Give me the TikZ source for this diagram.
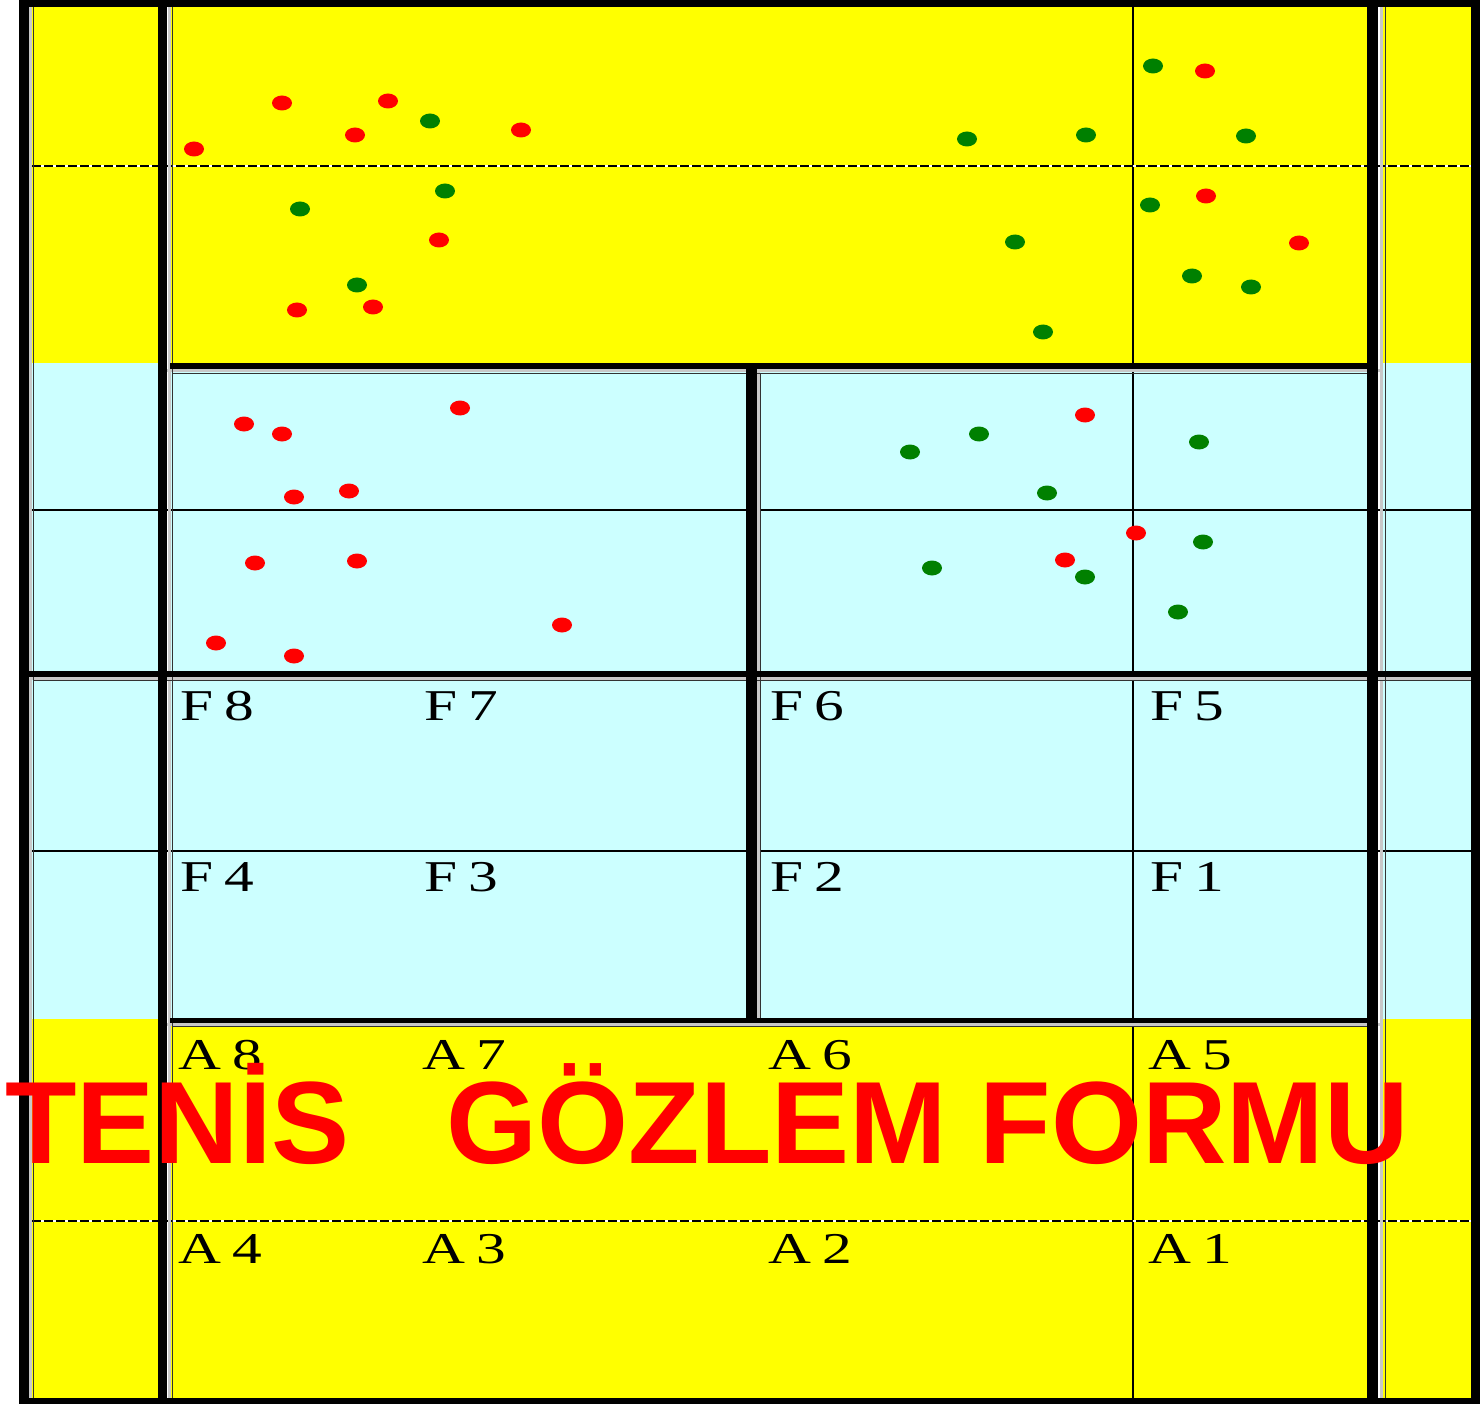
\documentclass[tikz,border=0pt]{standalone}
\usepackage{fontspec}
\setmainfont{Liberation Serif}
\newfontfamily\lblfont[FakeStretch=1.35]{Liberation Serif}
\newfontfamily\titlefont{Liberation Sans}
\definecolor{courtyellow}{HTML}{FFFF00}
\definecolor{courtcyan}{HTML}{CCFFFF}
\definecolor{dotred}{HTML}{FF0000}
\definecolor{dotgreen}{HTML}{008000}
\definecolor{sepgray}{HTML}{C8C8C8}
\newcommand\lblpair[2]{#1\kern11pt #2}
\begin{document}
\begin{tikzpicture}[x=1pt,y=-1pt,
  lbl/.style={anchor=base west, inner sep=0pt, font=\lblfont\fontsize{44}{44}\selectfont},
  titletext/.style={anchor=base west, inner sep=0pt, text=dotred, font=\titlefont\bfseries\fontsize{117}{117}\selectfont},
  thinrule/.style={line width=1.5pt, black},
  edgerule/.style={line width=0.8pt, black!80},
  grayrule/.style={line width=3pt, sepgray},
  dashbase/.style={line width=2pt, white},
  dashrule/.style={line width=2pt, black, dash pattern=on 9pt off 3pt},
  reddot/.style={fill=dotred},
  greendot/.style={fill=dotgreen}]
% background
\fill[white] (0,0) rectangle (1480,1404);
\useasboundingbox (0,0) rectangle (1480,1404);
% alleys
\foreach \xa/\xb in {32/158, 1383/1471}{
  \fill[courtyellow] (\xa,7) rectangle (\xb,363);
  \fill[courtcyan] (\xa,363) rectangle (\xb,1019);
  \fill[courtyellow] (\xa,1019) rectangle (\xb,1398);
}
% inner court
\fill[courtyellow] (170,7) rectangle (1367,363);
\fill[courtcyan] (170,363) rectangle (1367,1023);
\fill[courtyellow] (170,1023) rectangle (1367,1398);
% thin lines
\draw[thinrule] (32,510) -- (1471,510);
\draw[thinrule] (32,851) -- (1471,851);
\draw[thinrule] (1133,7) -- (1133,1398);
% dashed lines
\foreach \yy in {166,1221}{
  \draw[dashbase] (32,\yy) -- (1471,\yy);
  \draw[dashrule] (32,\yy) -- (1471,\yy);
}
% gray separators
\draw[grayrule] (30.5,7) -- (30.5,1398);
\draw[grayrule] (169,7) -- (169,1398);
\draw[grayrule] (1381,7) -- (1381,1398);
\draw[grayrule] (167,371) -- (1383,371);
\draw[grayrule] (29,678.5) -- (1471,678.5);
\draw[grayrule] (167,1024.5) -- (1383,1024.5);
\draw[grayrule] (758.5,369) -- (758.5,1023);
% thin dark edges
\draw[edgerule] (33,7) -- (33,1398);
\draw[edgerule] (172,7) -- (172,1398);
\draw[edgerule] (1385,7) -- (1385,1398);
\draw[edgerule] (172,373) -- (1367,373);
\draw[edgerule] (33,680) -- (1471,680);
\draw[edgerule] (172,1026.5) -- (1367,1026.5);
\draw[edgerule] (760.5,373) -- (760.5,1018);
% thick black lines
\fill[black] (19,0) rectangle (29,1404);
\fill[black] (19,0) rectangle (1480,7);
\fill[black] (1471,0) rectangle (1480,1404);
\fill[black] (19,1398) rectangle (1480,1404);
\fill[black] (158,0) rectangle (167,1404);
\fill[black] (1367,0) rectangle (1378,1404);
\fill[black] (170,363) rectangle (1367,369);
\fill[black] (29,671) rectangle (1480,677);
\fill[black] (170,1018) rectangle (1367,1023);
\fill[black] (746,369) rectangle (757,1023);
% dots top region
\foreach \px/\py in {194/149, 282/103, 388/101, 355/135, 521/130, 439/240, 297/310, 373/307, 1205/71, 1206/196, 1299/243}{
  \fill[reddot] (\px,\py) ellipse [x radius=10pt, y radius=7.5pt];
}
\foreach \px/\py in {430/121, 445/191, 300/209, 357/285, 967/139, 1086/135, 1153/66, 1246/136, 1150/205, 1015/242, 1192/276, 1251/287, 1043/332}{
  \fill[greendot] (\px,\py) ellipse [x radius=10pt, y radius=7.5pt];
}
% dots upper cyan left
\foreach \px/\py in {244/424, 282/434, 460/408, 294/497, 349/491, 255/563, 357/561, 216/643, 294/656, 562/625}{
  \fill[reddot] (\px,\py) ellipse [x radius=10pt, y radius=7.5pt];
}
% dots upper cyan right
\foreach \px/\py in {1085/415, 1136/533, 1065/560}{
  \fill[reddot] (\px,\py) ellipse [x radius=10pt, y radius=7.5pt];
}
\foreach \px/\py in {910/452, 979/434, 1199/442, 1047/493, 1203/542, 932/568, 1085/577, 1178/612}{
  \fill[greendot] (\px,\py) ellipse [x radius=10pt, y radius=7.5pt];
}
% labels
\node[lbl] (f8) at (180,720) {\lblpair{F}{8}};
\node[lbl] (f7) at (424,720) {\lblpair{F}{7}};
\node[lbl] (f6) at (770,720) {\lblpair{F}{6}};
\node[lbl] (f5) at (1150,720) {\lblpair{F}{5}};
\node[lbl] (f4) at (180,891) {\lblpair{F}{4}};
\node[lbl] (f3) at (424,891) {\lblpair{F}{3}};
\node[lbl] (f2) at (770,891) {\lblpair{F}{2}};
\node[lbl] (f1) at (1150,891) {\lblpair{F}{1}};
\node[lbl] (a8) at (178,1069) {\lblpair{A}{8}};
\node[lbl] (a7) at (422,1069) {\lblpair{A}{7}};
\node[lbl] (a6) at (768,1069) {\lblpair{A}{6}};
\node[lbl] (a5) at (1148,1069) {\lblpair{A}{5}};
\node[lbl] (a4) at (178,1263) {\lblpair{A}{4}};
\node[lbl] (a3) at (422,1263) {\lblpair{A}{3}};
\node[lbl] (a2) at (768,1263) {\lblpair{A}{2}};
\node[lbl] (a1) at (1148,1263) {\lblpair{A}{1}};
% title
\node[titletext] (title) at (5,1163) {TENİS\hspace{97pt}GÖZLEM FORMU};
\end{tikzpicture}
\end{document}
